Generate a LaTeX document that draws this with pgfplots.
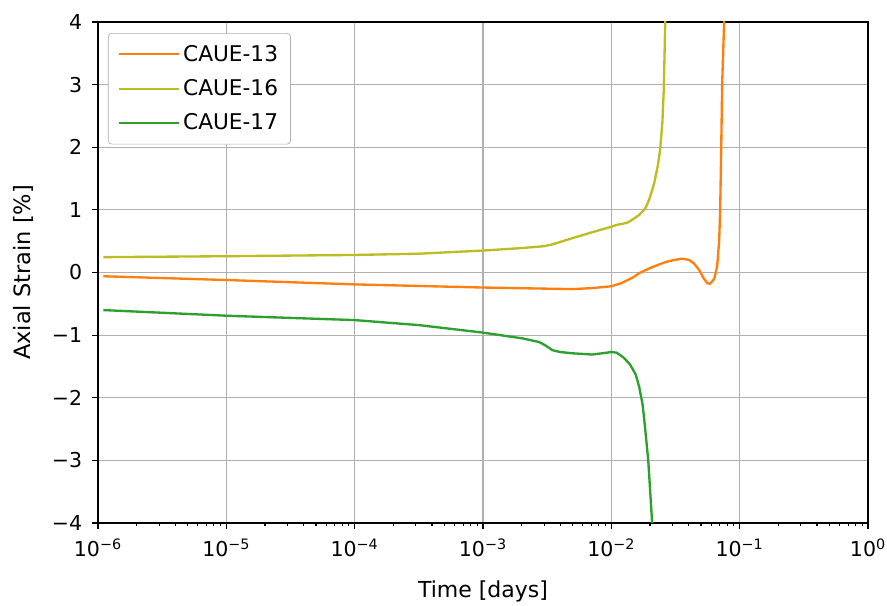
\documentclass[border=0pt]{standalone}
\usepackage{fontspec}
\setmainfont{DejaVu Sans}
\usepackage{pgfplots}
\pgfplotsset{compat=1.18}
\definecolor{c13}{HTML}{FF7F0E}
\definecolor{c16}{HTML}{BCBD22}
\definecolor{c17}{HTML}{2CA02C}
\definecolor{gridc}{HTML}{B0B0B0}
\begin{document}
\begin{tikzpicture}
\begin{axis}[
  scale only axis,
  width=462pt, height=300.6pt,
  xmode=log,
  xmin=1e-6, xmax=1, ymin=-4, ymax=4,
  xtick={1e-6,1e-5,1e-4,1e-3,1e-2,1e-1,1},
  xticklabels={10\textsuperscript{−6},10\textsuperscript{−5},10\textsuperscript{−4},10\textsuperscript{−3},10\textsuperscript{−2},10\textsuperscript{−1},10\textsuperscript{0}},
  ytick={-4,-3,-2,-1,0,1,2,3,4},
  yticklabels={−4,−3,−2,−1,0,1,2,3,4},
  /pgf/number format/assume math mode=true,
  tick label style={font=\fontsize{12.3}{14}\selectfont},
  xticklabel style={yshift=-2.5pt},
  yticklabel style={xshift=-2.5pt},
  xlabel style={font=\fontsize{13.2}{15}\selectfont, at={(axis description cs:0.5,0)}, anchor=base, yshift=-45pt},
  ylabel style={font=\fontsize{13.5}{16}\selectfont, at={(axis description cs:-0.087,0.5)}, anchor=base},
  xlabel={Time [days]},
  ylabel={Axial Strain [\%]},
  xmajorgrids, ymajorgrids,
  major grid style={gridc, line width=0.7pt},
  tick align=outside,
  xtick pos=bottom, ytick pos=left,
  major tick length=3.5pt, minor tick length=2pt,
  every tick/.style={black, line width=0.7pt},
  axis line style={line width=0.7pt},
  legend style={at={(0.013,0.978)}, anchor=north west, draw=gridc, fill=white, rounded corners=2pt, font=\fontsize{13}{15}\selectfont, row sep=5.5pt, inner xsep=5.5pt, inner ysep=5pt},
  legend cell align=left,
  legend image code/.code={\draw[#1, line width=1.4pt] (0cm,0cm) -- (30pt,0cm); \path (0pt,0pt) -- (36pt,0pt);},
  every axis plot/.append style={line width=1.4pt, line join=round},
  clip=true,
]
\addplot[c13] coordinates {
(1.1e-6,-0.06) (1e-5,-0.12) (1e-4,-0.19) (1e-3,-0.24) (3.5e-3,-0.26) (5e-3,-0.265) (7e-3,-0.25) (1e-2,-0.22) (1.2e-2,-0.17) (1.5e-2,-0.07) (1.65e-2,-0.01) (2.0e-2,0.07) (2.37e-2,0.13) (2.68e-2,0.17) (3.09e-2,0.20) (3.57e-2,0.22) (4.05e-2,0.20) (4.43e-2,0.14) (4.84e-2,0.04) (5.2e-2,-0.08) (5.58e-2,-0.17) (5.89e-2,-0.18) (6.34e-2,-0.10) (6.68e-2,0.1) (6.92e-2,0.5) (7.05e-2,1.0) (7.18e-2,1.96) (7.31e-2,3.03) (7.57e-2,4.0) (7.65e-2,4.3)
};
\addlegendentry{CAUE-13}
\addplot[c16] coordinates {
(1.1e-6,0.245) (1e-5,0.26) (1e-4,0.28) (3.16e-4,0.30) (1e-3,0.35) (2e-3,0.39) (3e-3,0.42) (3.5e-3,0.45) (5e-3,0.55) (7e-3,0.64) (1.0e-2,0.73) (1.1e-2,0.76) (1.24e-2,0.78) (1.35e-2,0.80) (1.5e-2,0.86) (1.65e-2,0.92) (1.78e-2,0.99) (1.87e-2,1.05) (2.0e-2,1.2) (2.16e-2,1.43) (2.3e-2,1.7) (2.40e-2,1.96) (2.5e-2,2.4) (2.56e-2,2.9) (2.6e-2,3.5) (2.63e-2,4.0) (2.65e-2,4.3)
};
\addlegendentry{CAUE-16}
\addplot[c17] coordinates {
(1.1e-6,-0.60) (1e-5,-0.69) (1e-4,-0.76) (3.16e-4,-0.84) (1e-3,-0.96) (2e-3,-1.05) (2.74e-3,-1.11) (3.1e-3,-1.17) (3.47e-3,-1.24) (4e-3,-1.27) (4.96e-3,-1.29) (7.1e-3,-1.31) (8.5e-3,-1.29) (1.0e-2,-1.27) (1.1e-2,-1.28) (1.25e-2,-1.36) (1.4e-2,-1.47) (1.55e-2,-1.63) (1.65e-2,-1.83) (1.75e-2,-2.1) (1.81e-2,-2.37) (1.94e-2,-3.0) (2.08e-2,-4.0) (2.1e-2,-4.3)
};
\addlegendentry{CAUE-17}
\end{axis}
\pgfresetboundingbox
\path (current axis.south west) ++(-58.8pt,-49.8pt) coordinate (bl);
\path (current axis.north east) ++(11.4pt,13.2pt) coordinate (tr);
\path (bl) rectangle (tr);
\end{tikzpicture}
\end{document}
